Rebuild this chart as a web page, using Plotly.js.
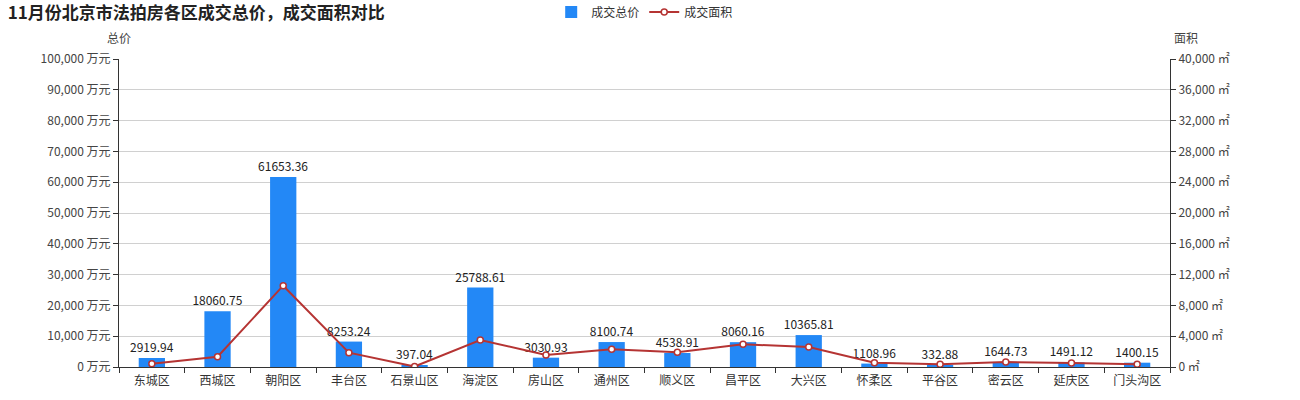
<!DOCTYPE html>
<html><head><meta charset="utf-8">
<script src="https://cdn.plot.ly/plotly-3.0.1.min.js"></script>
<style>body{margin:0;background:#fff}#c{width:1300px;height:400px}</style>
</head><body><div id="c"></div>
<script>
const districts = ["东城区","西城区","朝阳区","丰台区","石景山区","海淀区","房山区","通州区","顺义区","昌平区","大兴区","怀柔区","平谷区","密云区","延庆区","门头沟区"];
const totalPrice = [2919.94,18060.75,61653.36,8253.24,397.04,25788.61,3030.93,8100.74,4538.91,8060.16,10365.81,1108.96,332.88,1644.73,1491.12,1400.15];
const area = [420,1340,10560,1860,60,3510,1560,2300,1910,2950,2600,560,350,650,520,350];

const font = "'Noto Sans CJK SC', 'Microsoft YaHei', sans-serif";
const traces = [
  {type:'bar', name:'成交总价', x:districts, y:totalPrice, yaxis:'y',
   marker:{color:'#2388f6'}, width:0.4,
   text: totalPrice.map(v=>v.toFixed(2)), textposition:'outside', cliponaxis:false, constraintext:'none',
   textfont:{size:12,color:'#222',family:font}, hoverinfo:'x+y'},
  {type:'scatter', mode:'lines+markers', name:'成交面积', x:districts, y:area, yaxis:'y2',
   line:{color:'#b53433', width:2},
   marker:{symbol:'circle', size:6, color:'#ffffff', line:{color:'#b53433', width:1.5}}}
];
const layout = {
  width:1300, height:400,
  margin:{l:119, r:130, t:59, b:33, autoexpand:false},
  paper_bgcolor:'#fff', plot_bgcolor:'#fff',
  font:{family:font, size:12, color:'#444'},
  title:{text:'<b>11月份北京市法拍房各区成交总价，成交面积对比</b>', x:0.006, xanchor:'left', xref:'container', yref:'container', y:0.968, yanchor:'middle',
    font:{size:17, color:'#222', family:font}},
  showlegend:true,
  legend:{orientation:'h', x:0.424, xanchor:'left', xref:'container', yref:'container', y:0.97, yanchor:'middle', font:{size:12,color:'#333'}, bgcolor:'rgba(0,0,0,0)'},
  xaxis:{type:'category', range:[-0.5,15.5], showline:true, linecolor:'#333', linewidth:1, ticks:'outside', tickson:'boundaries',
    ticklen:5, tickcolor:'#333', showgrid:false, tickfont:{size:12,color:'#333'}, ticklabelstandoff:3, fixedrange:true},
  yaxis:{range:[0,100000], dtick:10000, tickformat:',d', ticksuffix:' 万元', showline:true, linecolor:'#333',
    ticks:'outside', ticklen:5, tickcolor:'#333', gridcolor:'#d0d0d0', zeroline:false,
    tickfont:{size:12,color:'#444'}},
  yaxis2:{range:[0,40000], dtick:4000, tickformat:',d', ticksuffix:' ㎡', overlaying:'y', side:'right',
    showline:true, linecolor:'#333', ticks:'outside', ticklen:5, tickcolor:'#333', showgrid:false, zeroline:false,
    tickfont:{size:12,color:'#444'}},
  annotations:[
    {text:'总价', xref:'paper', yref:'paper', x:0, y:1.07, xanchor:'center', yanchor:'middle', showarrow:false, font:{size:12,color:'#444'}},
    {text:'面积', xref:'paper', yref:'paper', x:1.015, y:1.07, xanchor:'center', yanchor:'middle', showarrow:false, font:{size:12,color:'#444'}}
  ]
};
Plotly.newPlot('c', traces, layout, {displayModeBar:false, responsive:false});
</script></body></html>
